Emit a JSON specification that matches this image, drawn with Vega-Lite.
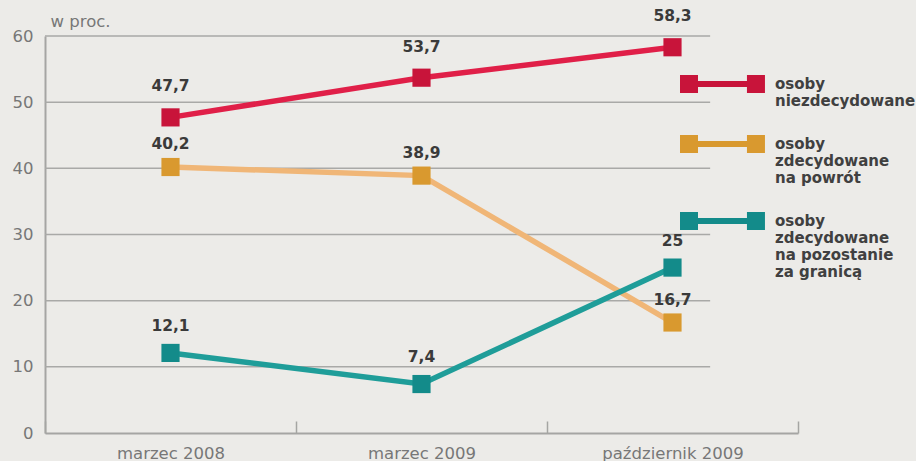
{
  "$schema": "https://vega.github.io/schema/vega-lite/v6.json",
  "width": 753,
  "height": 397,
  "autosize": {"type": "none"},
  "padding": {"left": 45, "top": 36, "right": 118, "bottom": 28},
  "background": "#ecebe8",
  "config": {
    "view": {"stroke": null},
    "locale": {"number": {"decimal": ",", "thousands": " ", "grouping": [3], "currency": ["", " zł"]}}
  },
  "datasets": {
    "main": [
      {"period": "marzec 2008", "series": "osoby niezdecydowane", "value": 47.7},
      {"period": "marzec 2009", "series": "osoby niezdecydowane", "value": 53.7},
      {"period": "październik 2009", "series": "osoby niezdecydowane", "value": 58.3},
      {"period": "marzec 2008", "series": "osoby zdecydowane na powrót", "value": 40.2},
      {"period": "marzec 2009", "series": "osoby zdecydowane na powrót", "value": 38.9},
      {"period": "październik 2009", "series": "osoby zdecydowane na powrót", "value": 16.7},
      {"period": "marzec 2008", "series": "osoby zdecydowane na pozostanie za granicą", "value": 12.1},
      {"period": "marzec 2009", "series": "osoby zdecydowane na pozostanie za granicą", "value": 7.4},
      {"period": "październik 2009", "series": "osoby zdecydowane na pozostanie za granicą", "value": 25}
    ],
    "grid": [{"value": 10}, {"value": 20}, {"value": 30}, {"value": 40}, {"value": 50}, {"value": 60}]
  },
  "data": {"name": "main"},
  "encoding": {
    "x": {
      "field": "period", "type": "nominal", "bandPosition": 0.5, "title": null,
      "scale": {"type": "band", "domain": ["marzec 2008", "marzec 2009", "październik 2009"], "paddingInner": 0, "paddingOuter": 0},
      "axis": {
        "tickBand": "extent", "tickSize": -12, "tickColor": "#a5a5a3", "tickWidth": 1.5,
        "domainColor": "#a5a5a3", "domainWidth": 2, "grid": false,
        "labelFont": "DejaVu Sans", "labelFontSize": 16.5, "labelColor": "#777777",
        "labelPadding": 24, "labelAngle": 0, "title": null
      }
    },
    "y": {
      "field": "value", "type": "quantitative",
      "scale": {"domain": [0, 60], "nice": false},
      "axis": {
        "values": [0, 10, 20, 30, 40, 50, 60], "grid": false, "ticks": false,
        "domainColor": "#a5a5a3", "domainWidth": 2,
        "labelFont": "DejaVu Sans", "labelFontSize": 16.5, "labelColor": "#777777", "labelPadding": 12,
        "title": "w proc.", "titleAngle": 0, "titleX": 5, "titleY": -15, "titleAlign": "left",
        "titleBaseline": "middle", "titleFont": "DejaVu Sans", "titleFontSize": 16.5,
        "titleFontWeight": "normal", "titleColor": "#777777"
      }
    }
  },
  "layer": [
    {
      "data": {"name": "grid"},
      "mark": {"type": "rule", "color": "#a9a9a7", "strokeWidth": 1.5},
      "encoding": {
        "x": {"datum": "marzec 2008", "type": "nominal", "bandPosition": 0, "title": null},
        "x2": {"datum": "październik 2009", "bandPosition": 0.65}
      }
    },
    {
      "mark": {"type": "line", "strokeWidth": 5.5},
      "encoding": {
        "stroke": {
          "field": "series", "type": "nominal", "legend": null,
          "scale": {"domain": ["osoby zdecydowane na pozostanie za granicą", "osoby zdecydowane na powrót", "osoby niezdecydowane"], "range": ["#1f9d99", "#f0b677", "#e01f48"]}
        }
      }
    },
    {
      "mark": {"type": "point", "shape": "square", "filled": true, "size": 330, "opacity": 1},
      "encoding": {
        "color": {
          "field": "series", "type": "nominal",
          "scale": {"domain": ["osoby niezdecydowane", "osoby zdecydowane na powrót", "osoby zdecydowane na pozostanie za granicą"], "range": ["#c8143a", "#d9992f", "#138b8a"]},
          "legend": {
            "orient": "none", "legendX": 635, "legendY": 32, "title": null, "padding": 0,
            "symbolType": "M-1,-0.22H1V0.45H6.44V-0.22H8.44V1.78H6.44V1.11H1V1.78H-1Z",
            "symbolSize": 324, "symbolStrokeWidth": 0,
            "labelFont": "DejaVu Sans", "labelFontWeight": "bold", "labelFontSize": 15, "labelColor": "#404040",
            "labelOffset": 77, "labelBaseline": "top", "labelLimit": 300, "rowPadding": 19,
            "labelExpr": "datum.label == 'osoby niezdecydowane' ? ['osoby', 'niezdecydowane'] : datum.label == 'osoby zdecydowane na powrót' ? ['osoby', 'zdecydowane', 'na powrót'] : ['osoby', 'zdecydowane', 'na pozostanie', 'za granicą']",
            "encode": {"labels": {"dy": {"value": -6}, "lineHeight": {"value": 18.5}}}
          }
        }
      }
    },
    {
      "transform": [{"filter": "datum.series == 'osoby niezdecydowane'"}],
      "mark": {"type": "text", "dy": -31, "font": "DejaVu Sans", "fontWeight": "bold", "fontSize": 15.5, "color": "#3a3a3a", "baseline": "middle"},
      "encoding": {"text": {"field": "value", "type": "quantitative", "format": ".1~f"}}
    },
    {
      "transform": [{"filter": "datum.series == 'osoby zdecydowane na powrót'"}],
      "mark": {"type": "text", "dy": -23, "font": "DejaVu Sans", "fontWeight": "bold", "fontSize": 15.5, "color": "#3a3a3a", "baseline": "middle"},
      "encoding": {"text": {"field": "value", "type": "quantitative", "format": ".1~f"}}
    },
    {
      "transform": [{"filter": "datum.series == 'osoby zdecydowane na pozostanie za granicą'"}],
      "mark": {"type": "text", "dy": -27, "font": "DejaVu Sans", "fontWeight": "bold", "fontSize": 15.5, "color": "#3a3a3a", "baseline": "middle"},
      "encoding": {"text": {"field": "value", "type": "quantitative", "format": ".1~f"}}
    }
  ]
}
